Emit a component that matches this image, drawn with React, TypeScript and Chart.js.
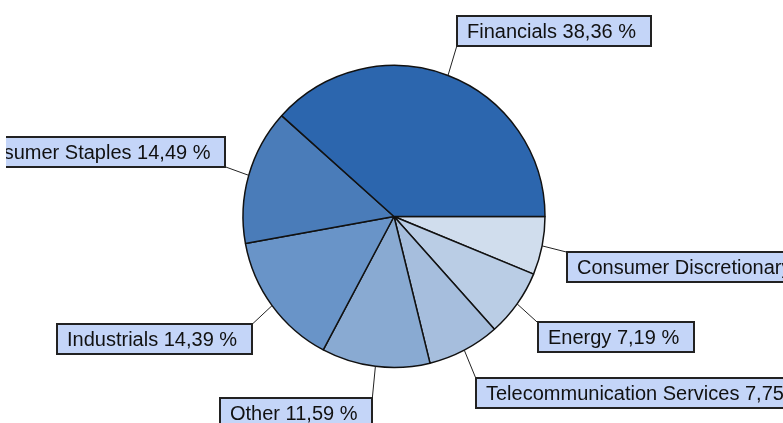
import React, { useEffect, useRef } from "react";
import { Chart, registerables } from "chart.js";

Chart.register(...registerables);

// Sectors, listed counter-clockwise from 3 o'clock as in the reference
const categories = [
  "Financials",
  "Consumer Staples",
  "Industrials",
  "Other",
  "Telecommunication Services",
  "Energy",
  "Consumer Discretionary",
];
const shares = [38.36, 14.49, 14.39, 11.59, 7.75, 7.19, 6.23];
const sliceColors = [
  "#2c66ae",
  "#4a7cb9",
  "#6994c8",
  "#89aad2",
  "#a6bedd",
  "#bacde5",
  "#d0dded",
];

const LEADER_X = 25;
const LEADER_Y = 32;
const BOX_H = 30;
const PAD_L = 10;
const PAD_R = 15;
const FONT = '20px "Liberation Sans", Arial, sans-serif';

const labelPlugin = {
  id: "boxLabels",
  afterDatasetsDraw(chart: any) {
    const ctx = chart.ctx as CanvasRenderingContext2D;
    const meta = chart.getDatasetMeta(0);
    const labels = chart.data.labels as string[];
    const data = chart.data.datasets[0].data as number[];
    ctx.save();
    ctx.font = FONT;
    meta.data.forEach((arc: any, i: number) => {
      const p = arc.getProps(["x", "y", "startAngle", "endAngle", "outerRadius"], true);
      const mid = (p.startAngle + p.endAngle) / 2;
      const cos = Math.cos(mid);
      const sin = Math.sin(mid);
      const sx = p.x + cos * p.outerRadius;
      const sy = p.y + sin * p.outerRadius;
      const ex = p.x + cos * (p.outerRadius + LEADER_X);
      const ey = p.y + sin * (p.outerRadius + LEADER_Y);
      ctx.strokeStyle = "#222";
      ctx.lineWidth = 1;
      ctx.beginPath();
      ctx.moveTo(sx, sy);
      ctx.lineTo(ex, ey);
      ctx.stroke();

      const text = `${labels[i]} ${Number(data[i]).toFixed(2).replace(".", ",")} %`;
      const tw = ctx.measureText(text).width;
      const w = Math.round(tw + PAD_L + PAD_R);
      const bx = Math.round(cos >= 0 ? ex : ex - w);
      const by = Math.round(sin >= 0 ? ey : ey - BOX_H);
      ctx.fillStyle = "#c4d5f8";
      ctx.fillRect(bx, by, w, BOX_H);
      ctx.strokeStyle = "#222";
      ctx.lineWidth = 2;
      ctx.strokeRect(bx, by, w, BOX_H);
      ctx.fillStyle = "#111";
      ctx.textBaseline = "alphabetic";
      ctx.textAlign = "left";
      ctx.fillText(text, bx + PAD_L, by + BOX_H - 8);
    });
    ctx.restore();
  },
};

export default function App() {
  const ref = useRef<HTMLCanvasElement>(null);
  useEffect(() => {
    if (!ref.current) return;
    // Chart.js draws clockwise; reverse so the sequence runs counter-clockwise from 3 o'clock
    const labels = [...categories].reverse();
    const values = [...shares].reverse();
    const colors = [...sliceColors].reverse();
    const chart = new Chart(ref.current, {
      type: "pie",
      data: {
        labels,
        datasets: [
          {
            data: values,
            backgroundColor: colors,
            borderColor: "#111",
            borderWidth: 1.5,
          },
        ],
      },
      options: {
        responsive: false,
        animation: false,
        devicePixelRatio: 1,
        rotation: 90,
        radius: 151,
        layout: { padding: { left: 45, right: 46, top: 60, bottom: 50 } },
        plugins: {
          legend: { display: false },
          tooltip: { enabled: false },
        },
      },
      plugins: [labelPlugin],
    });
    return () => chart.destroy();
  }, []);
  return (
    <canvas
      ref={ref}
      width={777}
      height={423}
      style={{ position: "fixed", left: 6, top: 0, width: 777, height: 423, display: "block", background: "#fff" }}
    />
  );
}
